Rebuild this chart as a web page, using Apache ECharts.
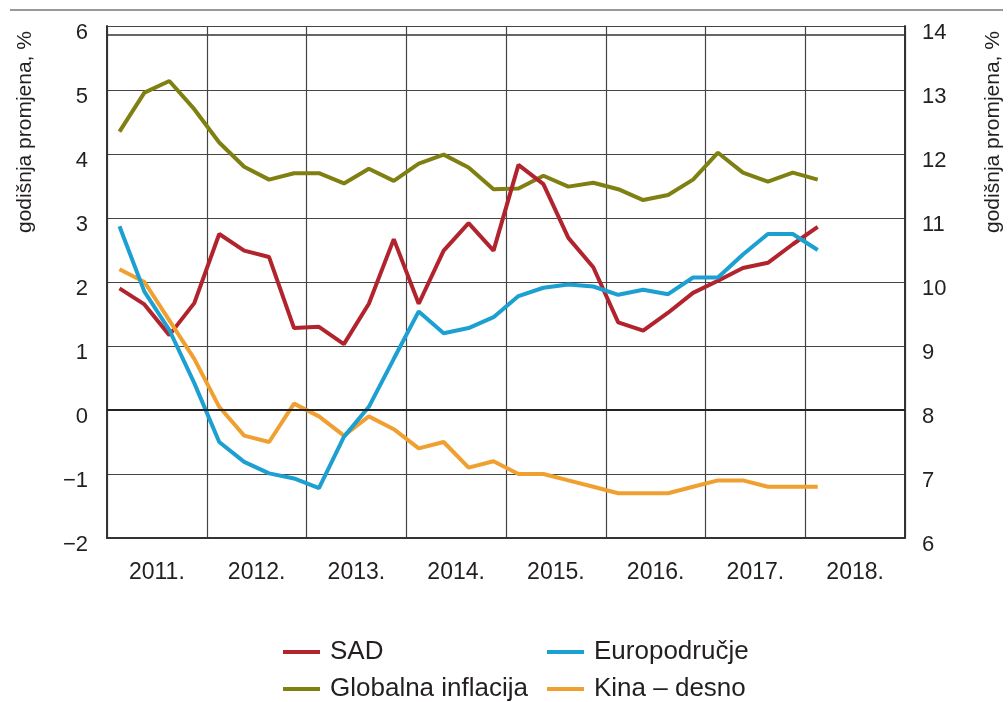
<!DOCTYPE html>
<html>
<head>
<meta charset="utf-8">
<script src="https://cdn.jsdelivr.net/npm/echarts@6/dist/echarts.min.js"></script>
<style>
  html, body { margin: 0; padding: 0; background: #fff; }
  #chart { width: 1008px; height: 702px; }
</style>
</head>
<body>
<div id="chart"></div>
<script>
// godine i kvartali
var years = ['2011.', '2012.', '2013.', '2014.', '2015.', '2016.', '2017.', '2018.'];
var quarters = [];
years.forEach(function (y) {
  ['Q1', 'Q2', 'Q3', 'Q4'].forEach(function (q) { quarters.push(y + q); });
});

// lijeva os, 2011Q1 - 2018Q1
var sad = [1.90, 1.65, 1.17, 1.67, 2.75, 2.49, 2.39, 1.28, 1.30, 1.03, 1.66, 2.67, 1.66, 2.49, 2.92, 2.49,
  3.83, 3.53, 2.69, 2.23, 1.37, 1.24, 1.52, 1.83, 2.02, 2.22, 2.30, 2.59, 2.86];
var globalna = [4.35, 4.96, 5.14, 4.70, 4.18, 3.80, 3.60, 3.70, 3.70, 3.54, 3.77, 3.58, 3.85, 3.99, 3.79, 3.45,
  3.46, 3.66, 3.49, 3.55, 3.45, 3.28, 3.36, 3.60, 4.02, 3.71, 3.57, 3.71, 3.60];
var europodrucje = [2.87, 1.85, 1.25, 0.42, -0.50, -0.81, -0.99, -1.07, -1.22, -0.42, 0.05, 0.80, 1.54, 1.20, 1.28, 1.45,
  1.78, 1.91, 1.96, 1.93, 1.80, 1.88, 1.81, 2.07, 2.07, 2.43, 2.75, 2.75, 2.50];
// desna os
var kina = [10.2, 10.0, 9.4, 8.8, 8.05, 7.6, 7.5, 8.1, 7.9, 7.6, 7.9, 7.7, 7.4, 7.5, 7.1, 7.2,
  7.0, 7.0, 6.9, 6.8, 6.7, 6.7, 6.7, 6.8, 6.9, 6.9, 6.8, 6.8, 6.8];

var leftTicks = { min: -2, max: 6, interval: 1 };
var rightTicks = { min: 6, max: 14, interval: 1 };

var font = '"Liberation Sans", Arial, sans-serif';
var txt = '#231f20';

// jedna legenda po stavci, da bi stajale u dva stupca
function legendItem(name, left, top) {
  return {
    data: [name], left: left, top: top,
    icon: 'rect', itemWidth: 37, itemHeight: 4,
    textStyle: { fontFamily: font, fontSize: 26, lineHeight: 26, color: txt, padding: [0, 0, 0, 5] }
  };
}

var option = {
  animation: false,
  backgroundColor: '#fff',
  grid: { left: 107, right: 103, top: 26, bottom: 164 },
  legend: [
    legendItem('SAD', 278, 634),
    legendItem('Globalna inflacija', 278, 671),
    legendItem('Europodručje', 542, 634),
    legendItem('Kina – desno', 542, 671)
  ],
  xAxis: [{
    type: 'category', data: quarters, boundaryGap: true, show: false
  }, {
    type: 'category', data: years, boundaryGap: true, position: 'bottom',
    axisLine: { show: true, lineStyle: { color: '#333', width: 2 } },
    axisTick: { show: false },
    axisLabel: { fontFamily: font, fontSize: 23, color: txt, margin: 23 },
    splitLine: { show: true, lineStyle: { color: '#444', width: 1.2 } }
  }],
  yAxis: [{
    type: 'value', position: 'left',
    min: leftTicks.min, max: leftTicks.max, interval: leftTicks.interval,
    axisLine: { show: true, lineStyle: { color: '#333', width: 2 } },
    axisTick: { show: false },
    axisLabel: {
      fontFamily: font, fontSize: 22, color: txt, margin: 19,
      verticalAlign: 'top', lineHeight: 14,
      formatter: function (v) { return v < 0 ? '\u2212' + Math.abs(v) : String(v); }
    },
    splitLine: { show: true, lineStyle: { color: '#444', width: 1.2 } }
  }, {
    type: 'value', position: 'right',
    min: rightTicks.min, max: rightTicks.max, interval: rightTicks.interval,
    axisLine: { show: true, lineStyle: { color: '#333', width: 2 } },
    axisTick: { show: false },
    axisLabel: { fontFamily: font, fontSize: 22, color: txt, margin: 17, verticalAlign: 'top', lineHeight: 14 },
    splitLine: { show: false }
  }],
  series: [{
    name: 'Globalna inflacija', type: 'line', data: globalna,
    symbol: 'none', lineStyle: { color: '#808012', width: 4 }, itemStyle: { color: '#808012' }
  }, {
    name: 'SAD', type: 'line', data: sad,
    symbol: 'none', lineStyle: { color: '#b1242e', width: 4 }, itemStyle: { color: '#b1242e' },
    markLine: {
      silent: true, symbol: 'none', label: { show: false },
      lineStyle: { color: '#222', width: 2, type: 'solid' },
      data: [{ yAxis: 0 }]
    }
  }, {
    name: 'Kina – desno', type: 'line', data: kina, yAxisIndex: 1,
    symbol: 'none', lineStyle: { color: '#f0a030', width: 4 }, itemStyle: { color: '#f0a030' }
  }, {
    name: 'Europodručje', type: 'line', data: europodrucje,
    symbol: 'none', lineStyle: { color: '#1c9fd1', width: 4 }, itemStyle: { color: '#1c9fd1' }
  }],
  graphic: [{
    type: 'line', shape: { x1: 10, y1: 10, x2: 1003, y2: 10 },
    style: { stroke: '#777', lineWidth: 1.5 }
  }, {
    type: 'line', shape: { x1: 107, y1: 35, x2: 905, y2: 35 },
    style: { stroke: '#333', lineWidth: 1.5 }
  }, {
    type: 'text', x: 25, y: 233, rotation: Math.PI / 2,
    style: { text: 'godišnja promjena, %', font: '21px ' + font, fill: txt, textAlign: 'left', textVerticalAlign: 'middle' }
  }, {
    type: 'text', x: 993, y: 233, rotation: Math.PI / 2,
    style: { text: 'godišnja promjena, %', font: '21px ' + font, fill: txt, textAlign: 'left', textVerticalAlign: 'middle' }
  }]
};

var myChart = echarts.init(document.getElementById('chart'));
myChart.setOption(option);
</script>
</body>
</html>
